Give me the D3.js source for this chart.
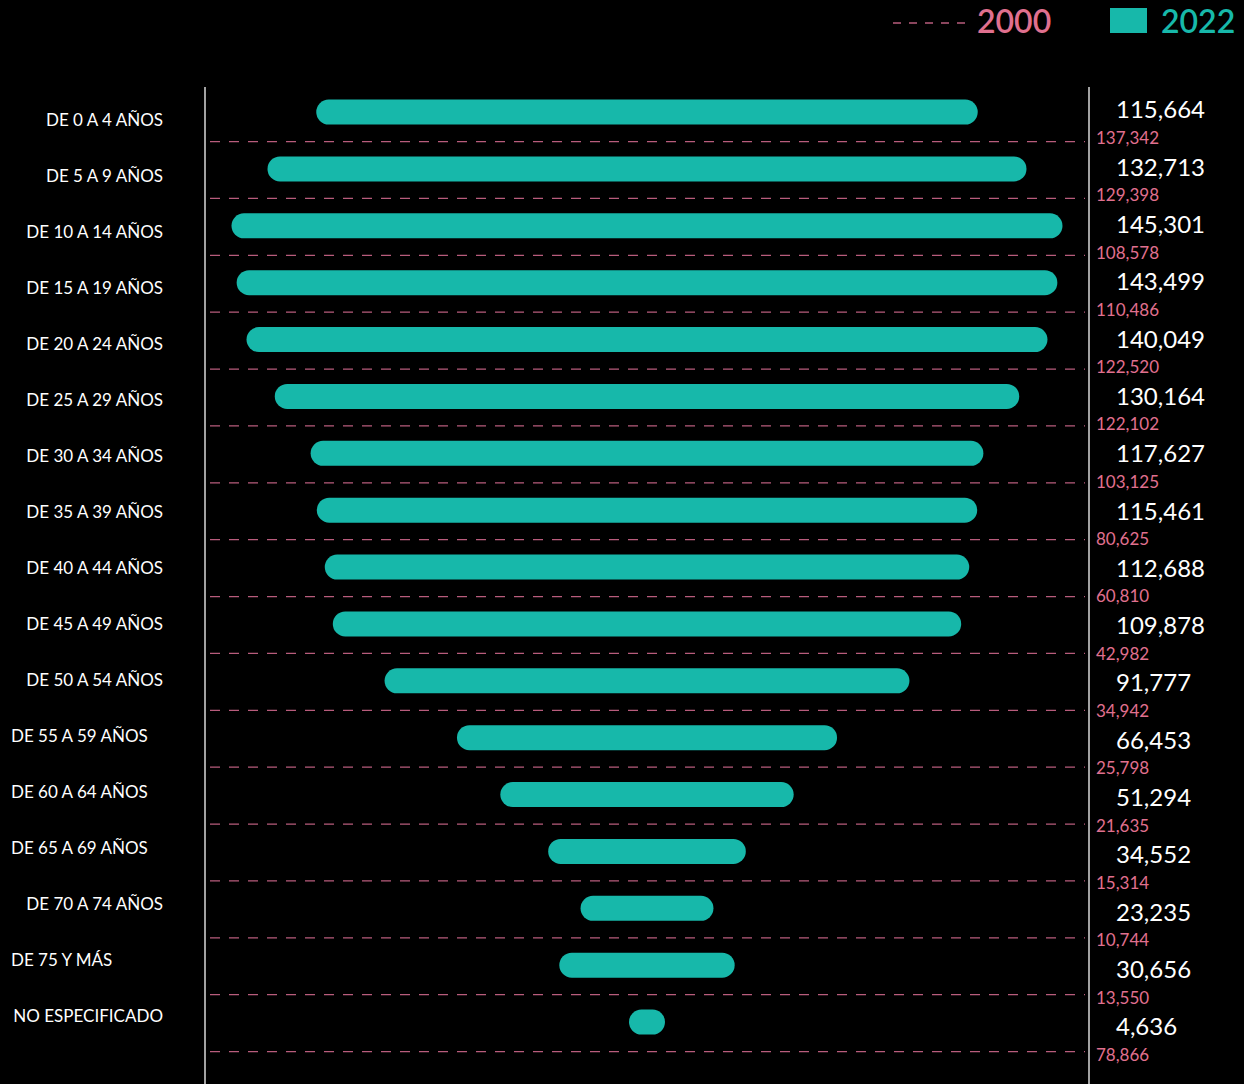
<!DOCTYPE html>
<html>
<head>
<meta charset="utf-8">
<script src="https://cdn.jsdelivr.net/npm/d3@7"></script>
<style>
  body { margin:0; background:#000; }
  svg { display:block; font-family: Lato, "Noto Sans", sans-serif; }
</style>
</head>
<body>
<div id="chart"></div>
<script>
var groups = ["DE 0 A 4 AÑOS","DE 5 A 9 AÑOS","DE 10 A 14 AÑOS","DE 15 A 19 AÑOS","DE 20 A 24 AÑOS",
  "DE 25 A 29 AÑOS","DE 30 A 34 AÑOS","DE 35 A 39 AÑOS","DE 40 A 44 AÑOS","DE 45 A 49 AÑOS",
  "DE 50 A 54 AÑOS","DE 55 A 59 AÑOS","DE 60 A 64 AÑOS","DE 65 A 69 AÑOS","DE 70 A 74 AÑOS",
  "DE 75 Y MÁS","NO ESPECIFICADO"];
var values2022 = [115664,132713,145301,143499,140049,130164,117627,115461,112688,109878,
  91777,66453,51294,34552,23235,30656,4636];
var values2000 = [137342,129398,108578,110486,122520,122102,103125,80625,60810,42982,
  34942,25798,21635,15314,10744,13550,78866];
var leftAligned = ["DE 55 A 59 AÑOS","DE 60 A 64 AÑOS","DE 65 A 69 AÑOS","DE 75 Y MÁS"];

var teal = "#17b8aa", pink = "#e0708f", dash = "#b85c7c";
var W = 1244, H = 1084;
var fmt = d3.format(",");

var svg = d3.select("#chart").append("svg").attr("width", W).attr("height", H);

// bars + separators, left labels and right values sit on slightly different grids
var y = d3.scaleBand().domain(groups).range([83.6, 83.6 + 17*56.875]);
var yLab = d3.scaleBand().domain(groups).range([92, 92 + 17*56]);
var yVal = d3.scaleBand().domain(groups).range([81.3, 81.3 + 17*57.31]);
var cx = 647;
var w = d3.scaleLinear().domain([0, d3.max(values2022)]).range([0, 831]);
var barH = 25;

svg.append("line").attr("x1", 205).attr("x2", 205).attr("y1", 87).attr("y2", H)
  .attr("stroke", "#d8d8d8").attr("stroke-width", 1.5);
svg.append("line").attr("x1", 1089).attr("x2", 1089).attr("y1", 87).attr("y2", H)
  .attr("stroke", "#d8d8d8").attr("stroke-width", 1.5);

var mid = function(s){ return function(d){ return s(d) + s.bandwidth()/2; }; };

svg.selectAll(".sep").data(groups).enter().append("line")
  .attr("class", "sep")
  .attr("x1", 210).attr("x2", 1085)
  .attr("y1", function(d){ return mid(y)(d) + 29.5; })
  .attr("y2", function(d){ return mid(y)(d) + 29.5; })
  .attr("stroke", dash).attr("stroke-width", 1.3)
  .attr("stroke-dasharray", "10,9");

svg.selectAll(".bar").data(groups).enter().append("rect")
  .attr("class", "bar")
  .attr("x", function(d, i){ return cx - Math.max(w(values2022[i]), 36)/2; })
  .attr("width", function(d, i){ return Math.max(w(values2022[i]), 36); })
  .attr("y", function(d){ return mid(y)(d) - barH/2; })
  .attr("height", barH)
  .attr("rx", barH/2).attr("ry", barH/2)
  .attr("fill", teal);

svg.selectAll(".lab").data(groups).enter().append("text")
  .attr("class", "lab")
  .attr("x", function(d){ return leftAligned.indexOf(d) >= 0 ? 11 : 163; })
  .attr("y", mid(yLab))
  .attr("dy", "0.35em")
  .attr("text-anchor", function(d){ return leftAligned.indexOf(d) >= 0 ? "start" : "end"; })
  .attr("fill", "#fff").attr("font-size", 17)
  .text(function(d){ return d; });

svg.selectAll(".v22").data(groups).enter().append("text")
  .attr("class", "v22")
  .attr("x", 1116).attr("y", mid(yVal)).attr("dy", "0.35em")
  .attr("fill", "#fff").attr("font-size", 24)
  .text(function(d, i){ return fmt(values2022[i]); });

svg.selectAll(".v00").data(groups).enter().append("text")
  .attr("class", "v00")
  .attr("x", 1096).attr("y", function(d){ return mid(yVal)(d) + 28; }).attr("dy", "0.35em")
  .attr("fill", pink).attr("font-size", 17)
  .text(function(d, i){ return fmt(values2000[i]); });

// legend
var lg = svg.append("g");
lg.append("line").attr("x1", 893).attr("x2", 968).attr("y1", 23).attr("y2", 23)
  .attr("stroke", dash).attr("stroke-width", 1.3).attr("stroke-dasharray", "8,8");
lg.append("text").attr("x", 977).attr("y", 22).attr("dy", "0.35em")
  .attr("fill", pink).attr("font-size", 32).attr("font-weight", 600).text("2000");
lg.append("rect").attr("x", 1110).attr("y", 8).attr("width", 37).attr("height", 25)
  .attr("fill", teal);
lg.append("text").attr("x", 1161).attr("y", 22).attr("dy", "0.35em")
  .attr("fill", teal).attr("font-size", 32).attr("font-weight", 600).text("2022");
</script>
</body>
</html>
